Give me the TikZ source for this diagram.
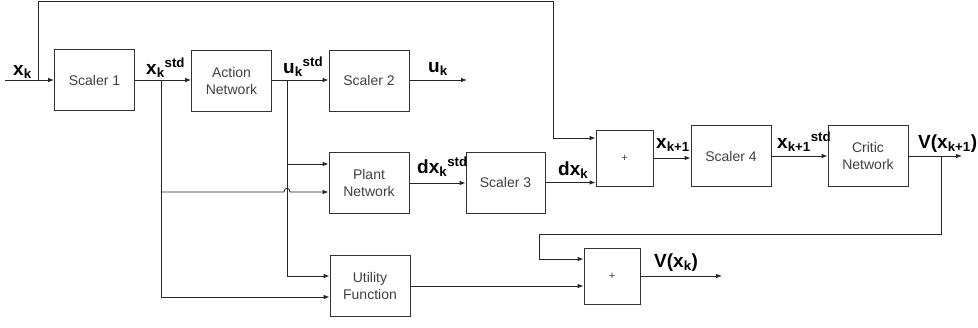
\documentclass[tikz,border=0pt]{standalone}
\usepackage{fontspec}
\setmainfont{Liberation Sans}
\usetikzlibrary{arrows.meta,calc}
\newcommand\boxfont{\fontsize{14}{17}\selectfont}
\newcommand\lblfont{\fontsize{19}{22}\selectfont\bfseries}
\tikzset{
  box/.style={draw=black!80, line width=0.8pt, minimum width=80pt, minimum height=61pt,
    inner sep=1pt, align=center, font=\boxfont, text=black!75},
  plusbox/.style={box, minimum width=57pt, minimum height=56pt, font=\fontsize{11}{13}\selectfont},
  wire/.style={line width=0.8pt, draw=black!85},
  arr/.style={wire, -{Latex[length=6pt,width=4.5pt]}},
  lbl/.style={font=\lblfont, text=black, inner sep=0pt, anchor=base west}
}
\begin{document}
\begin{tikzpicture}[x=1pt,y=-1pt]
\useasboundingbox (0,0) rectangle (978,327);
% blocks
\node[box] (s1) at (94.5,80) {Scaler 1};
\node[box] (an) at (231.5,81) {Action\\Network};
\node[box] (s2) at (369,80.5) {Scaler 2};
\node[box] (pl) at (369,183) {Plant\\Network};
\node[box] (ut) at (370,286) {Utility\\Function};
\node[box, minimum width=79pt] (s3) at (505.5,182.5) {Scaler 3};
\node[plusbox] (p1) at (624.5,158) {+};
\node[box] (s4) at (731,156) {Scaler 4};
\node[box] (cr) at (868,156) {Critic\\Network};
\node[plusbox, minimum width=56pt] (p2) at (612,276) {+};
% coordinates
\coordinate (in) at (5,80);
\coordinate (j0) at (38,80);
\coordinate (t0) at (38,1);
\coordinate (t1) at (553,1);
\coordinate (t2) at (553,138);
\coordinate (j1) at (161,80);
\coordinate (j1a) at (161,192);
\coordinate (j1b) at (161,297);
\coordinate (j2) at (287,80);
\coordinate (j2a) at (287,164);
\coordinate (j2b) at (287,276);
\coordinate (bA) at (284,192);
\coordinate (bB) at (290,192);
\coordinate (cA) at (284,187);
\coordinate (cB) at (290,187);
\coordinate (o2) at (467,80);
\coordinate (j3) at (941,156);
\coordinate (o1) at (962,156);
\coordinate (r1) at (941,234);
\coordinate (r2) at (539,234);
\coordinate (r3) at (539,259);
\coordinate (o3) at (722,276);
% connectors
\draw[arr] (in) -- (in -| s1.west);
\draw[arr] (j0) -- (t0) -- (t1) -- (t2) -- (t2 -| p1.west);
\draw[arr] (j1 -| s1.east) -- (j1 -| an.west);
\draw[arr] (j1) -- (j1b) -- (j1b -| ut.west);
\draw[arr] (j1a) -- (bA) .. controls (cA) and (cB) .. (bB) -- (bB -| pl.west);
\draw[arr] (j2 -| an.east) -- (j2 -| s2.west);
\draw[arr] (j2) -- (j2b) -- (j2b -| ut.west);
\draw[arr] (j2a) -- (j2a -| pl.west);
\draw[arr] (o2 -| s2.east) -- (o2);
\draw[arr] (pl.east) -- (pl.east -| s3.west);
\draw[arr] (s3.east) -- (s3.east -| p1.west);
\draw[arr] (p1.east) -- (p1.east -| s4.west);
\draw[arr] (s4.east) -- (s4.east -| cr.west);
\draw[arr] (cr.east) -- (o1);
\draw[wire] (j3) -- (r1) -- (r2) -- (r3);
\draw[arr] (r3) -- (r3 -| p2.west);
\draw[arr] (ut.east) -- (ut.east -| p2.west);
\draw[arr] (p2.east) -- (o3);
% labels
\node[lbl] (lxk) at (13,75) {x\textsubscript{k}};
\node[lbl] (lxs) at (146,74) {x\textsubscript{k}\textsuperscript{std}};
\node[lbl] (lus) at (283,73) {u\textsubscript{k}\textsuperscript{std}};
\node[lbl] (luk) at (428,72) {u\textsubscript{k}};
\node[lbl] (ldxs) at (417,173) {dx\textsubscript{k}\textsuperscript{std}};
\node[lbl] (ldx) at (558,175) {dx\textsubscript{k}};
\node[lbl] (lx1) at (656,148) {x\textsubscript{k+1}};
\node[lbl] (lx1s) at (777,148) {x\textsubscript{k+1}\textsuperscript{std}};
\node[lbl] (lv1) at (918,148) {V(x\textsubscript{k+1})};
\node[lbl] (lv) at (654,267) {V(x\textsubscript{k})};
\end{tikzpicture}
\end{document}
